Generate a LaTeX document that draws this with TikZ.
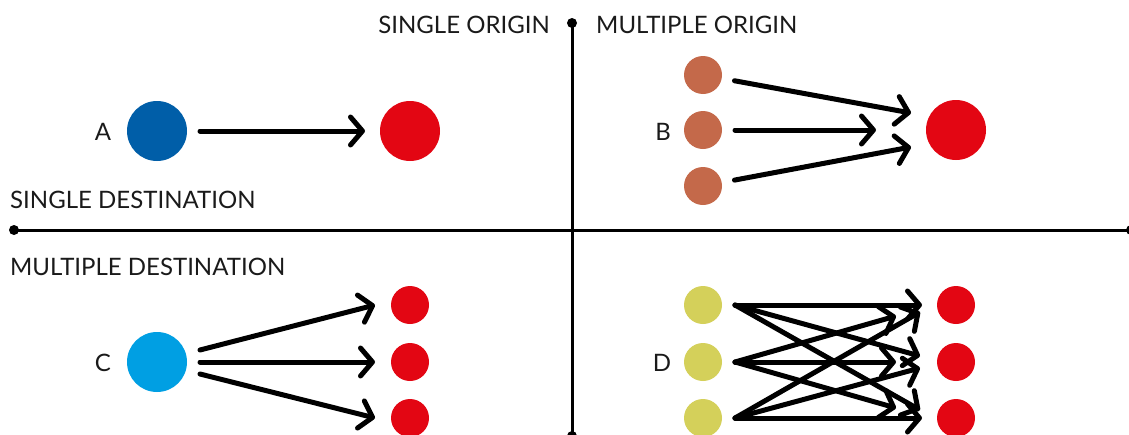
\documentclass[tikz,border=0pt]{standalone}
\usepackage{fontspec}
\setmainfont{Lato}
\usetikzlibrary{arrows.meta}
\definecolor{cblue}{HTML}{005EA8}
\definecolor{ccyan}{HTML}{009FE3}
\definecolor{cred}{HTML}{E30613}
\definecolor{cbrown}{HTML}{C4694A}
\definecolor{cyel}{HTML}{D4D05A}
\definecolor{ink}{HTML}{1A1A1A}
\tikzset{
  big/.style={circle,minimum size=60pt,inner sep=0pt,outer sep=0pt},
  small/.style={circle,minimum size=38pt,inner sep=0pt,outer sep=0pt},
  lbl/.style={font=\fontsize{24}{28}\selectfont,text=ink,inner sep=0pt},
  axis/.style={line width=3pt,draw=black},
  axdot/.style={circle,fill=black,minimum size=10pt,inner sep=0pt},
  arr/.style={line width=5pt,line cap=round,line join=round,-{Straight Barb[length=12pt,width=28pt,line width=5pt,round]}},
}
\begin{document}
\begin{tikzpicture}[x=1pt,y=-1pt]
\useasboundingbox (0,0) rectangle (1129,434);
% axes
\node[axdot] (vt) at (572,23) {};
\node[axdot] (vb) at (572,436) {};
\node[axdot] (hl) at (14,230) {};
\node[axdot] (hr) at (1131,230) {};
\draw[axis] (vt.center) -- (vb.center);
\draw[axis] (hl.center) -- (hr.center);
% axis texts
\node[lbl,anchor=east] (so) at (550,25) {SINGLE ORIGIN};
\node[lbl,anchor=west] (mo) at (596,25) {MULTIPLE ORIGIN};
\node[lbl,anchor=west] (sd) at (10,200) {SINGLE DESTINATION};
\node[lbl,anchor=west] (md) at (10,267) {MULTIPLE DESTINATION};
% A
\node[lbl] (la) at (103,132) {A};
\node[big,fill=cblue] (a) at (157,131) {};
\node[big,fill=cred] (at) at (410,131) {};
\draw[arr,shorten <=13pt,shorten >=15pt] (a) -- (at);
% B
\node[lbl] (lb) at (663,132) {B};
\node[small,fill=cbrown] (b1) at (703,75) {};
\node[small,fill=cbrown] (b2) at (703,130) {};
\node[small,fill=cbrown] (b3) at (703,186) {};
\node[big,fill=cred] (bt) at (956,130) {};
\coordinate (be1) at (911,113);
\coordinate (be3) at (911,147);
\draw[arr,shorten <=13pt] (b1) -- (be1);
\draw[arr,shorten <=13pt,shorten >=50pt] (b2) -- (bt);
\draw[arr,shorten <=13pt] (b3) -- (be3);
% C
\node[lbl] (lc) at (103,363) {C};
\node[big,fill=ccyan] (c) at (157,362) {};
\node[small,fill=cred] (c1) at (410,305) {};
\node[small,fill=cred] (c2) at (410,362) {};
\node[small,fill=cred] (c3) at (410,418) {};
\coordinate (ce1) at (375,305);
\coordinate (ce3) at (375,418);
\draw[arr] ([shift={(13,-12)}]c.east) -- (ce1);
\draw[arr,shorten <=13pt,shorten >=16pt] (c) -- (c2);
\draw[arr] ([shift={(13,12)}]c.east) -- (ce3);
% D
\node[lbl] (ld) at (662,363) {D};
\node[small,fill=cyel] (d1) at (703,305) {};
\node[small,fill=cyel] (d2) at (703,362) {};
\node[small,fill=cyel] (d3) at (703,418) {};
\node[small,fill=cred] (t1) at (956,305) {};
\node[small,fill=cred] (t2) at (956,362) {};
\node[small,fill=cred] (t3) at (956,418) {};
\coordinate (e11) at (922,305);
\coordinate (e21) at (896,316);
\coordinate (e31) at (920,312);
\coordinate (e12) at (920,356);
\coordinate (e22) at (896,362);
\coordinate (e32) at (920,368);
\coordinate (e13) at (920,410);
\coordinate (e23) at (896,408);
\coordinate (e33) at (922,418);
\foreach \s in {1,2,3}{
  \foreach \t in {1,2,3}{
    \draw[arr] ([xshift=13pt]d\s.east) -- (e\s\t);
  }
}
\end{tikzpicture}
\end{document}
